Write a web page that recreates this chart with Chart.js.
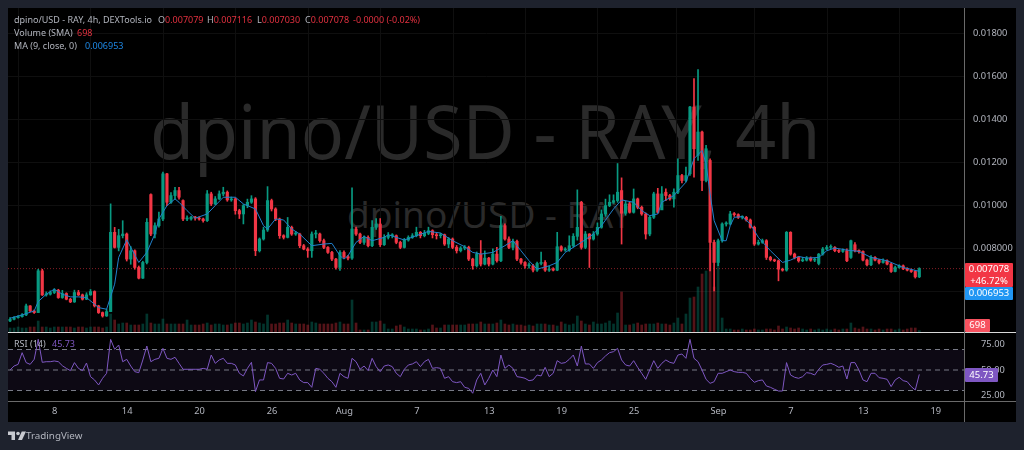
<!DOCTYPE html>
<html><head><meta charset="utf-8">
<style>
html,body{margin:0;padding:0;background:#1e222d;width:1024px;height:450px;overflow:hidden;font-family:"Noto Sans",sans-serif}
#pane{position:absolute;left:8px;top:8px;width:1008px;height:414px;background:#000}
canvas{position:absolute;display:block}
.t{position:absolute;white-space:pre;font-size:9px;line-height:12px;color:#b2b5be}
.r{color:#e0303f}.b{color:#1e88e5}.p{color:#7e57c2}
.wm{position:absolute;white-space:pre;color:#2a2a2a;font-family:"Noto Sans",sans-serif;line-height:1;transform-origin:0 0}
.tag{position:absolute;color:#fff;font-size:9.5px;line-height:12px;text-align:center;border-radius:1px}
#sepH{position:absolute;left:8px;top:332px;width:1008px;height:1px;background:#d8d8d8}
#sepB{position:absolute;left:8px;top:401px;width:1008px;height:1px;background:#6a6a6a}
#sepV{position:absolute;left:964px;top:8px;width:1px;height:414px;background:#6a6a6a}
</style>
</head><body>
<div id="pane"></div>
<div class="wm" style="left:150px;top:94px;font-size:74px;transform:scaleX(.968)">dpino/USD - RAY, 4h</div>
<div class="wm" style="left:347px;top:195px;font-size:37px">dpino/USD - RAY</div>
<canvas id="priceCanvas" width="1008" height="324" style="left:8px;top:8px;width:1008px;height:324px"></canvas>
<canvas id="rsiCanvas" width="1008" height="89" style="left:8px;top:333px;width:1008px;height:89px"></canvas>
<div id="sepH"></div><div id="sepB"></div><div id="sepV"></div>
<div class="t" style="left:14px;top:14px">dpino/USD - RAY, 4h, DEXTools.io</div>
<div class="t" style="left:158px;top:14px">O<span class="r">0.007079</span></div>
<div class="t" style="left:207px;top:14px">H<span class="r">0.007116</span></div>
<div class="t" style="left:257px;top:14px">L<span class="r">0.007030</span></div>
<div class="t" style="left:305px;top:14px">C<span class="r">0.007078</span></div>
<div class="t r" style="left:353px;top:14px">-0.0000 (-0.02%)</div>
<div class="t" style="left:14px;top:27px">Volume (SMA)</div>
<div class="t r" style="left:77px;top:27px">698</div>
<div class="t" style="left:14px;top:40px">MA (9, close, 0)</div>
<div class="t b" style="left:85px;top:40px">0.006953</div>
<div class="t" style="left:14px;top:338px">RSI (14)</div>
<div class="t p" style="left:52px;top:338px">45.73</div>
<div class="tag" style="left:965px;top:263px;width:48px;height:24px;background:#f23645">0.007078<br>+46.72%</div>
<div class="tag" style="left:965px;top:287px;width:48px;height:13px;background:#2196f3">0.006953</div>
<div class="tag" style="left:965px;top:319px;width:25px;height:13px;background:#f7525f">698</div>
<div class="tag" style="left:965px;top:368px;width:33px;height:14px;background:#7e57c2;line-height:14px">45.73</div>
<svg style="position:absolute;left:8px;top:431px" width="18" height="10" viewBox="0 0 36 20"><path fill="#c8cad0" d="M14 18H7V8H0V1h14v17zM28 18h-8l7.5-17H36L28 18z"/><circle cx="20" cy="5" r="3.6" fill="#c8cad0"/></svg>
<div class="t" style="left:26px;top:429px;font-size:9.8px;line-height:14px;color:#b2b5be">TradingView</div>

<script src="https://cdn.jsdelivr.net/npm/chart.js@4"></script>
<script>
const barStartDay = 3.30, barStepDays = 1/3;
const opens = [4652,4730,4807,4854,4931,5350,5117,5040,6977,5861,5892,5970,6078,5737,5923,5660,5536,5970,5861,5660,5861,6016,5350,5040,4885,5086,8760,8062,8605,8682,7520,7907,7132,6636,7364,10511,8682,9070,9380,11472,10155,10465,10697,10232,9380,9380,9457,9426,9380,9302,10542,10077,10310,10542,10620,10263,10310,9767,9612,10000,10155,10310,7907,8450,8868,10232,9844,9380,8605,8527,8992,8682,8682,8140,7985,7907,8682,8682,8372,8062,7830,7520,
7132,7830,7628,7566,8915,8682,8295,8527,8140,8992,9147,8186,8527,8605,8605,8295,8062,8403,8527,8605,8760,8605,8713,8837,8651,8605,8651,8217,8450,8062,7907,8031,8062,7520,7210,7752,7287,7566,7287,7752,7442,9070,8450,8062,8341,7520,7364,7210,7210,7008,7318,7364,7008,7054,7008,8093,7938,7938,8140,8574,10155,8062,8682,8450,8682,8992,9612,10000,10155,10232,10697,9643,10077,9690,10310,9922,9612,8682,9457,10542,
9800,10620,10465,10310,10620,11394,11162,11472,14572,12325,13410,11162,12092,8295,7364,8372,9147,9147,9612,9581,9457,9457,9333,8992,8217,8295,8372,7597,7488,7442,7054,7008,8760,7752,7597,
7442,7473,7566,7473,7318,7752,7984,8062,8062,7907,7876,7907,7597,8186,7907,7876,7473,7256,7597,7473,7364,7442,7287,6946,7132,7209,7070,7008,6946,6698];
const closes = [4730,4807,4854,4931,5350,5117,5040,6977,5861,5892,5970,6078,5737,5923,5660,5536,5970,5861,5660,5861,6016,5350,5040,4885,5086,8760,8062,8605,8682,7520,7907,7132,6636,7364,9225,8682,9070,9380,11472,10155,10465,10697,10387,9380,9380,9457,9426,9380,9302,10542,10077,10310,10542,10620,10263,10310,9767,9612,10000,10155,10310,7907,8450,8868,10232,9844,9380,8605,8527,8992,8682,8682,8140,7985,7907,8682,8682,8372,8062,7830,7520,7132,
7830,7628,7566,8915,8682,8295,8527,8140,8992,9147,8186,8527,8605,8605,8295,8062,8403,8527,8605,8760,8605,8713,8837,8651,8605,8651,8217,8450,8062,7907,8031,8062,7520,7210,7752,7287,7566,7287,7752,7442,9070,8450,8062,8341,7520,7364,7210,7210,7008,7318,7364,7008,7054,7008,8093,7938,7938,8140,8574,8992,8062,8682,8450,8682,8992,9612,10000,10155,10232,10620,9643,10077,9690,10310,9922,9612,8682,9457,10542,9690,
10542,10465,10310,10620,11394,11162,11394,14572,12635,13410,11162,12635,8295,7364,8372,9147,9147,9612,9581,9457,9457,9333,8992,8217,8295,8372,7597,7488,7442,7054,7008,8760,7752,7597,7442,
7473,7566,7473,7473,7752,7984,8062,8062,7907,7876,7907,7442,8372,7907,7876,7473,7256,7597,7473,7364,7442,7287,6946,7132,7209,7070,7008,6946,6698,7078];
const highs = [4810,4850,4900,4990,5430,5370,5160,7050,7050,6000,6050,6150,6120,6070,5960,5700,6080,6070,5900,5960,6110,6050,5380,5070,5200,10080,8990,8900,9300,8730,8100,7950,7200,7420,9400,10540,9200,9700,11550,11500,10600,10850,10850,10270,9530,9500,9500,9480,9420,10700,10620,10420,10680,10850,10680,10400,10360,9830,10050,10300,10460,10370,8500,9000,10880,10300,9900,9420,8650,9450,9050,8800,8720,8200,8050,8780,8850,8720,8450,8100,7880,7560,
7910,7900,7700,10820,9000,8720,8600,8600,9300,9400,9400,8650,8750,8700,8640,8350,8480,8600,8700,9000,8800,8850,9000,8880,8720,8720,8680,8520,8500,8150,8100,8150,8120,7560,7850,8380,7900,7600,8000,8060,9500,9150,8550,8450,8400,7560,7400,7350,7280,7380,7840,7450,7200,7120,8760,8140,8050,8600,8700,10730,10200,8800,8700,8800,9200,9800,10300,10500,10500,11950,11286,10200,10150,10770,10350,9980,9660,9520,10620,10800,
10883,10775,10520,10775,12170,11450,11782,14600,15890,16308,13450,12790,12170,8400,8450,9200,9250,9736,9680,9620,9530,9500,9380,9050,8400,8450,8420,7650,7520,7480,7100,8800,8790,7800,7640,
7600,7640,7620,7560,7780,8060,8150,8180,8100,7960,8000,8000,8400,8280,7950,7900,7520,7680,7640,7510,7530,7480,7330,7200,7260,7250,7120,7060,7000,7116];
const lows = [4620,4700,4780,4830,4900,5080,5000,5040,5830,5800,5850,5920,5700,5700,5630,5500,5510,5830,5620,5640,5840,5300,5000,4830,4860,5080,8030,7900,8500,7430,7280,7050,6600,6620,7300,8600,8500,9000,9300,10000,10100,10300,10300,9300,9300,9330,9330,9330,9230,9260,10000,10040,10280,10450,10200,10200,9600,9400,9150,9900,10100,7680,7850,8400,8800,9750,9300,8480,8450,8500,8620,8620,8050,7950,7600,7600,8500,8300,8000,7780,7450,7050,
7000,7550,7480,7500,8620,8240,8200,8080,8100,8900,8100,8150,8450,8500,8230,8000,8030,8350,8480,8550,8500,8550,8650,8500,8450,8500,8150,8050,8000,7800,7850,7950,7450,7050,7150,7200,7250,7200,7250,7380,7400,8400,8000,7950,7450,7280,7100,7100,6920,6950,7250,6950,6950,6970,6980,7880,7880,7880,8080,8400,7980,8000,7130,8400,8620,8950,9500,9950,10100,10150,8217,9550,9650,9650,9850,9550,8450,8600,9400,9650,
9922,10232,10250,9922,10550,11050,11100,11400,11317,12092,10697,11100,6977,6047,7210,8300,9050,9100,9500,9400,9380,9280,8950,8150,8170,8250,7500,7430,7400,6512,6960,6960,7700,7530,7380,
7400,7430,7420,7400,7250,7700,7940,8000,7860,7820,7830,7400,7550,7850,7800,7430,7200,7220,7440,7300,7330,7250,6900,6920,7100,7030,6970,6900,6640,6660];
const volumes = [2000,2000,2500,2000,2000,2500,2500,5500,2500,2500,2000,2500,2500,2500,2500,2500,2000,2500,2500,2000,2500,2500,2500,2000,2500,9000,6000,4000,4500,4500,3500,3500,3500,4000,9000,4500,4000,4000,6500,4000,4000,4000,4000,4000,6000,3500,3500,3500,4000,4500,3500,4000,4000,3500,3500,4000,4500,4500,4000,4500,6000,5000,4500,4000,8500,4000,4000,4500,4500,6000,4500,4000,4000,4000,3500,5000,4500,4000,4000,4000,4000,4500,
5000,4000,4000,16000,4500,1000,1000,1000,5000,5000,5500,4000,1500,1500,3000,3500,2500,1500,1500,1500,1000,1000,1500,3500,2000,2000,3500,3500,3500,3500,3500,3500,4000,4000,4000,5000,4000,4000,4000,4500,6000,4000,3500,4000,3500,3500,3000,3500,3000,4000,4000,4000,3500,3500,3000,5000,4000,3500,4000,8000,5500,4000,3500,5000,4000,4000,4500,5500,4000,9500,20000,3500,3500,4000,4500,3500,4000,4000,4000,4500,
4000,4000,3500,4500,7000,4000,9000,17000,17500,22500,29000,30500,41000,22500,36000,7000,1500,1500,1000,1000,1500,1000,1000,1500,1000,1000,1500,1500,1000,3000,1500,2500,2000,1500,2000,
1500,1000,1500,1000,1500,1000,1500,1000,1500,1000,1500,1500,4500,2000,1500,2500,1500,1500,1000,1500,1000,1500,1500,1000,1500,1000,1500,2000,2000,698];
const rsiValues = [50,53.9,55.5,66.9,57.2,55.5,60.4,79.9,57.5,58.1,58.1,58.8,58.1,54.2,51.6,49.4,57.2,51.6,49.4,56.8,43.5,40.3,35.4,41.9,46.8,79.9,70.2,74.4,58.1,60.4,53.9,48.4,47.4,59.8,73.4,58.1,60.4,61.4,71.1,61.4,60.4,62.4,56.5,50.7,50.7,50.7,50.7,50.7,51.6,50.7,64.6,56.5,59.8,61.4,56.5,56.5,54.9,46.8,44.2,51.6,57.5,28.9,40.3,40.3,57.2,56.5,51.6,41.9,41.2,46.8,45.1,46.8,40.3,37.7,37.7,33.1,51.6,50.7,46.8,41.9,38.6,33.1,
46.8,43.5,41.9,61.4,58.1,50.7,53.9,49.4,61.4,53.3,48.4,53.9,54.9,53.3,46.8,43.5,50.7,54.9,55.9,58.1,53.3,58.1,60.4,51.6,52.3,51.6,41.9,43.5,38.6,37.7,38.6,33.1,32.1,27.3,40.3,46.8,35.4,41.9,50,43.5,64.6,51.6,54.9,51.6,43.5,42.9,41.9,39.6,40.3,45.1,44.2,52.6,43.5,46.8,59.1,56.5,57.2,60.4,64.6,53.9,73.4,55.9,55.9,51.6,57.2,59.8,63.7,66.9,67.9,71.1,59.8,54.9,53.9,59.1,52.6,46.8,40.9,50,59.1,51.6,
56.5,59.8,57.5,56.5,64.6,65.6,61.4,79.9,61.4,58.1,50,40.9,37,38.6,46.8,46.8,48.4,50,48.4,47.7,47.7,46.8,41.9,38,39.6,40.3,34.4,33.1,31.2,29.5,29.5,57.2,45.1,42.9,41.9,43.5,47.4,46.8,45.1,50.7,54.9,55.5,56.5,54.9,52.6,53.9,41.2,57.2,57.2,50,40.3,38.6,46.8,46.8,42.5,41.9,40.9,33.8,40.3,42.9,39.6,38.6,33.8,30.5,45.73];
const maIndex = [0,3,6,7,9,11,13,15,17,19,22,24,26,27,29,30,32,34,36,37,39,41,42,44,46,49,51,53,56,58,61,63,64,66,68,70,72,75,78,80,82,83,84,86,88,90,93,94,98,101,104,107,110,113,115,117,120,123,125,127,129,131,134,136,138,142,145,147,150,152,155,157,159,161,162,165,168,170,172,173,174,175,177,178,179,180,182,184,186,189,192,194,196,198,201,203,205,208,211,214,218,222,226];
const maValues = [4776,4931,5117,5551,5892,6125,5892,5768,5768,5737,5272,5195,6357,7597,8419,8062,7364,7830,8682,9380,10000,10310,10155,9767,9410,9612,10000,10387,10387,10077,9844,9070,8915,9380,9333,8915,8682,8140,8217,8248,7674,7520,7675,8295,8574,8372,8527,8651,8403,8605,8806,8728,8372,8093,7830,7752,7830,8140,8372,7907,7442,7054,7209,7364,7830,8295,8682,9070,9844,10263,10155,9767,9534,9612,10155,10465,11085,12170,12557,11937,10542,9302,8372,8372,9070,9457,9488,9147,8527,7907,7364,7473,7644,7566,7597,7907,8031,7938,7876,7597,7442,7132,6953];
const lastPrice = 7078;
const priceTicks = [4000,6000,8000,10000,12000,14000,16000,18000];
const priceTickLabels = ["","","0.008000","0.01000","0.01200","0.01400","0.01600","0.01800"];
const rsiTicks = [25,50,75];
const rsiTickLabels = ["25.00","50.00","75.00"];
const rsiLevels = [70,50,30];
const tickDays = [7,13,19,25,31,37,43,49,55,62,68,74,80];
const tickLabels = ["8","14","20","26","Aug","7","13","19","25","Sep","7","13","19"];

if(new Set([opens,closes,highs,lows,volumes,rsiValues].map(a=>a.length)).size!==1) throw new Error('lengths '+[opens,closes,highs,lows,volumes,rsiValues].map(a=>a.length));
if(maIndex.length!==maValues.length) throw new Error('ma lengths '+maIndex.length+' '+maValues.length);

const dayOf = i => barStartDay + i*barStepDays;
const UP='#089981', DOWN='#f23645';
const dirColor = (i,u,d) => closes[i]>=opens[i]?u:d;
const xMin=3.13, xMax=82.42;
const gridC='#0f0f0f';
const tickFont={family:'"Noto Sans",sans-serif',size:9.3};
const fitV = s=>{s.width=51;s.paddingTop=0;s.paddingBottom=0;};
const fitH = h=>s=>{s.height=h;s.paddingLeft=0;s.paddingRight=0;};
Chart.defaults.animation=false;

new Chart(document.getElementById('priceCanvas'),{
  type:'bar',
  data:{datasets:[
    {type:'line',label:'MA',order:0,yAxisID:'y',data:maIndex.map((n,k)=>({x:dayOf(n),y:maValues[k]})),borderColor:'#2080cc',borderWidth:1,pointRadius:0,tension:0},
    {label:'body',order:1,yAxisID:'y',grouped:false,barThickness:2.5,minBarLength:1,data:opens.map((o,i)=>({x:dayOf(i),y:[o,closes[i]]})),backgroundColor:opens.map((o,i)=>dirColor(i,UP,DOWN))},
    {label:'wick',order:2,yAxisID:'y',grouped:false,barThickness:1,data:lows.map((l,i)=>({x:dayOf(i),y:[l,highs[i]]})),backgroundColor:lows.map((l,i)=>dirColor(i,UP,DOWN))},
    {type:'line',label:'last',order:3,yAxisID:'y',data:[{x:xMin,y:lastPrice},{x:xMax,y:lastPrice}],borderColor:'rgba(242,54,69,.55)',borderWidth:1,borderDash:[1,2],pointRadius:0},
    {label:'volume',order:4,yAxisID:'v',grouped:false,barThickness:2,data:volumes.map((v,i)=>({x:dayOf(i),y:v})),backgroundColor:volumes.map((v,i)=>dirColor(i,'rgba(8,153,129,.35)','rgba(242,54,69,.35)'))}
  ]},
  options:{responsive:false,maintainAspectRatio:false,layout:{padding:0},
    plugins:{legend:{display:false},tooltip:{enabled:false}},events:[],
    scales:{
      x:{type:'linear',min:xMin,max:xMax,offset:false,
        afterFit:fitH(0),
        afterBuildTicks:a=>{a.ticks=tickDays.map(v=>({value:v}))},
        ticks:{display:false},grid:{color:gridC,drawTicks:false},border:{display:false}},
      y:{position:'right',min:4140,max:19160,
        afterFit:fitV,
        afterBuildTicks:a=>{a.ticks=priceTicks.map(v=>({value:v}))},
        ticks:{color:'#b2b5be',font:tickFont,padding:8,callback:v=>priceTickLabels[priceTicks.indexOf(v)]},
        grid:{color:gridC,drawTicks:false},border:{display:false}},
      v:{display:false,min:0,max:162000}
    }
  }
});

new Chart(document.getElementById('rsiCanvas'),{
  type:'line',
  data:{datasets:[
    {label:'band',order:3,data:[{x:xMin,y:rsiLevels[0]},{x:xMax,y:rsiLevels[0]}],borderWidth:0,pointRadius:0,fill:{value:rsiLevels[2]},backgroundColor:'rgba(126,87,194,.1)'},
    ...rsiLevels.map(l=>({label:'level',order:2,data:[{x:xMin,y:l},{x:xMax,y:l}],borderColor:'#787b86',borderWidth:1,borderDash:[5,4],pointRadius:0})),
    {label:'RSI',order:0,data:rsiValues.map((r,i)=>({x:dayOf(i),y:r})),borderColor:'#7e57c2',borderWidth:1,pointRadius:0,tension:0}
  ]},
  options:{responsive:false,maintainAspectRatio:false,layout:{padding:0},
    plugins:{legend:{display:false},tooltip:{enabled:false}},events:[],
    scales:{
      x:{type:'linear',min:xMin,max:xMax,
        afterFit:fitH(21),
        afterBuildTicks:a=>{a.ticks=tickDays.map(v=>({value:v}))},
        ticks:{color:'#b2b5be',font:tickFont,autoSkip:false,maxRotation:0,padding:5,callback:v=>tickLabels[tickDays.indexOf(v)]},
        grid:{display:false,drawTicks:false,tickLength:0},border:{display:false}},
      y:{position:'right',min:19.76,max:86.1,
        afterFit:fitV,
        afterBuildTicks:a=>{a.ticks=rsiTicks.map(v=>({value:v}))},
        ticks:{color:'#b2b5be',font:tickFont,padding:8,callback:v=>rsiTickLabels[rsiTicks.indexOf(v)]},
        grid:{display:false},border:{display:false}}
    }
  }
});
</script>
</body></html>
